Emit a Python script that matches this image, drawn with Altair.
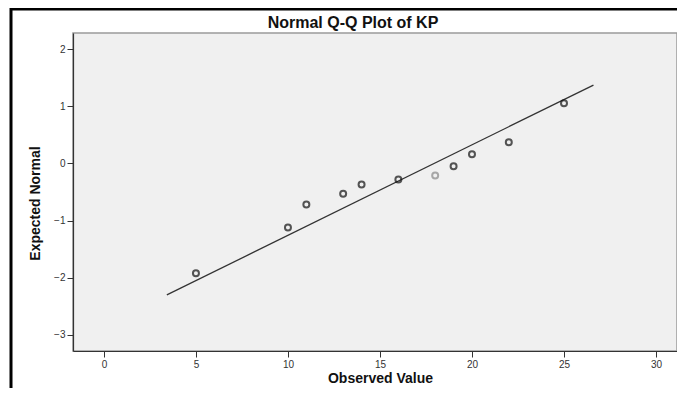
import altair as alt
import pandas as pd

# Data
observed = [5, 10, 11, 13, 14, 16, 18, 19, 20, 22, 25]
expected = [-1.92, -1.12, -0.72, -0.53, -0.37, -0.28, -0.21, -0.05, 0.16, 0.37, 1.05]
shade = ["dark", "dark", "dark", "dark", "dark", "dark", "light", "dark", "dark", "dark", "dark"]
line_x = [3.42, 26.6]
line_y = [-2.30, 1.37]
x_ticks = [0, 5, 10, 15, 20, 25, 30]
y_ticks = [-3, -2, -1, 0, 1, 2]
title_text = ["Normal Q-Q Plot of KP"]

pts = pd.DataFrame({"obs": observed, "exp": expected, "shade": shade})
ln = pd.DataFrame({"obs": line_x, "exp": line_y})
ttl = pd.DataFrame({"t": title_text})

W, H = 604, 318
FONT = "Liberation Sans"

xscale = alt.Scale(domain=[-1.68, 31.14], nice=False, zero=False)
yscale = alt.Scale(domain=[-3.28, 2.28], nice=False, zero=False)

xax = alt.Axis(values=x_ticks, format="d", grid=False, title="Observed Value", titleFont=FONT,
               titleFontSize=14, titleFontWeight="bold", titleColor="#111",
               titleX=307, titleY=27, titleBaseline="middle", titleAlign="center",
               labelFont=FONT, labelFontSize=10, labelColor="#333", labelPadding=2,
               tickSize=6, tickColor="#333", domainColor="#333", domainWidth=1.2)
yax = alt.Axis(values=y_ticks, format="d", grid=False, title="Expected Normal",
               titleFont=FONT, titleFontSize=14, titleFontWeight="bold",
               titleColor="#111", titleX=-38, titleY=170, titleBaseline="middle",
               titleAlign="center", labelFont=FONT, labelFontSize=10, labelColor="#333",
               labelPadding=2, tickSize=6, tickColor="#333", domainColor="#333",
               domainWidth=1.2)

line = alt.Chart(ln).mark_line(color="#333", strokeWidth=1.3, clip=False).encode(
    x=alt.X("obs:Q", scale=xscale, axis=xax),
    y=alt.Y("exp:Q", scale=yscale, axis=yax),
)

points = alt.Chart(pts).mark_point(shape="circle", filled=False, size=36, strokeWidth=2).encode(
    x=alt.X("obs:Q", scale=xscale),
    y=alt.Y("exp:Q", scale=yscale),
    color=alt.Color("shade:N", scale=alt.Scale(domain=["dark", "light"], range=["#111", "#888"]),
                    legend=None),
)

frame_top = alt.Chart(ttl).mark_rule(color="#000", strokeWidth=3, clip=False).encode(
    x=alt.value(-62), x2=alt.value(W + 20), y=alt.value(-24)
)
frame_left = alt.Chart(ttl).mark_rule(color="#000", strokeWidth=3, clip=False).encode(
    x=alt.value(-62), y=alt.value(-25), y2=alt.value(H + 40)
)

title = alt.Chart(ttl).mark_text(font=FONT, fontSize=16, fontWeight="bold", color="#111",
                                 align="center", baseline="middle", clip=False).encode(
    text="t:N", x=alt.value(353 - 73), y=alt.value(23 - 33)
)

chart = alt.layer(frame_top, frame_left, line, points, title).properties(
    width=W, height=H,
    autosize=alt.AutoSizeParams(type="none"),
    padding={"left": 65, "top": 25, "right": 0, "bottom": 37},
    background="white",
).configure_view(fill="#f0f0f0", stroke="#9a9a9a", strokeWidth=1.5)

chart.save("out.html", embed_options={"renderer": "svg", "actions": False})
